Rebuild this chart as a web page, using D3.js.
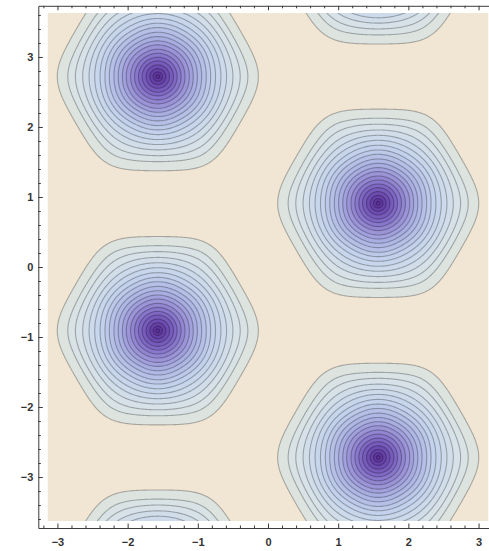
<!DOCTYPE html>
<html>
<head>
<meta charset="utf-8">
<script src="https://cdn.jsdelivr.net/npm/d3@7"></script>
<style>
body { margin: 0; background: #fff; }
.axis text { font-family: "Liberation Sans", Arial, sans-serif; font-size: 11px; font-weight: bold; fill: #333; }
.axis line, .axis path { stroke: #3a3a3a; stroke-width: 1; }
</style>
</head>
<body>
<div id="chart"></div>
<script>
// centres of the purple wells (x, y)
var centreX = [-1.57, 1.57, -1.57, 1.57, 1.57, -1.57];
var centreY = [2.72, 0.91, -0.91, -2.72, 4.53, -4.53];

// contour levels = distance from a centre, outermost first
var levels = [1.345, 1.215, 1.13, 1.047, 0.971, 0.90, 0.829, 0.762, 0.70, 0.633,
              0.571, 0.51, 0.453, 0.39, 0.333, 0.276, 0.224, 0.167, 0.114, 0.067, 0.028];

// band colours by distance from the centre
var colourStops  = [0, 0.12, 0.25, 0.4, 0.55, 0.8, 1.05, 1.25, 1.4];
var colourValues = ["#5a2c96", "#6a48ad", "#7f68c4", "#9890d6", "#aab0e2", "#c4d2ec", "#d4e0ea", "#dce4e2", "#e3e4da"];
var outsideColour = "#f1e5d4";

var majorTicks = [-3, -2, -1, 0, 1, 2, 3];

var width = 489, height = 551;

// plot area
var x = d3.scaleLinear().domain([-Math.PI, Math.PI]).range([47.5, 488.5]);
var y = d3.scaleLinear().domain([-3.628, 3.628]).range([521, 13]);

// frame (a little padding round the plot area)
var frame = {left: 38.3, right: 497.7, top: 5.8, bottom: 528};
var xFrame = d3.scaleLinear().domain([x.invert(frame.left), x.invert(frame.right)]).range([frame.left, frame.right]);
var yFrame = d3.scaleLinear().domain([y.invert(frame.bottom), y.invert(frame.top)]).range([frame.bottom, frame.top]);

var svg = d3.select("#chart")
  .append("svg")
    .attr("width", width)
    .attr("height", height);

svg.append("clipPath").attr("id", "plotclip")
  .append("rect")
    .attr("x", x.range()[0]).attr("y", y.range()[1])
    .attr("width", x.range()[1] - x.range()[0])
    .attr("height", y.range()[0] - y.range()[1]);

// distance to the nearest centre: round near the middle, hexagonal further out
var n1 = [Math.cos(Math.PI / 6), Math.sin(Math.PI / 6)],
    n2 = [0, 1],
    n3 = [-Math.cos(Math.PI / 6), Math.sin(Math.PI / 6)];

function hexDist(dx, dy) {
  var r = Math.sqrt(dx * dx + dy * dy);
  var p = 2 + 6.5 * Math.min(1, Math.pow(r / 1.345, 3));
  var a = Math.abs(n1[0] * dx + n1[1] * dy),
      b = Math.abs(n2[0] * dx + n2[1] * dy),
      c = Math.abs(n3[0] * dx + n3[1] * dy);
  var s = Math.pow(Math.pow(a, p) + Math.pow(b, p) + Math.pow(c, p), 1 / p);
  return s / Math.pow(1 + 2 * Math.pow(0.5, p), 1 / p);
}

var nx = 420, ny = 480;
var x0 = x.domain()[0], x1 = x.domain()[1];
var yTop = y.domain()[1], yBot = y.domain()[0];
var sx = (x1 - x0) / (nx - 1), sy = (yTop - yBot) / (ny - 1);

var values = new Float64Array(nx * ny);
for (var j = 0; j < ny; j++) {
  var yv = yTop - j * sy;
  for (var i = 0; i < nx; i++) {
    var xv = x0 + i * sx;
    var d = Infinity;
    for (var k = 0; k < centreX.length; k++) {
      d = Math.min(d, hexDist(xv - centreX[k], yv - centreY[k]));
    }
    values[j * nx + i] = -d;
  }
}

var contours = d3.contours()
  .size([nx, ny])
  .thresholds(levels.map(function(l) { return -l; }))(values);

var path = d3.geoPath(d3.geoTransform({
  point: function(u, v) {
    this.stream.point(x(x0 + (u - 0.5) * sx), y(yTop - (v - 0.5) * sy));
  }
}));

var colour = d3.scaleLinear().domain(colourStops).range(colourValues)
  .interpolate(d3.interpolateRgb).clamp(true);

var plot = svg.append("g").attr("clip-path", "url(#plotclip)");

plot.append("rect")
  .attr("x", x.range()[0]).attr("y", y.range()[1])
  .attr("width", x.range()[1] - x.range()[0])
  .attr("height", y.range()[0] - y.range()[1])
  .attr("fill", outsideColour);

plot.selectAll("path.band")
  .data(contours)
  .enter().append("path")
    .attr("class", "band")
    .attr("d", path)
    .attr("fill", function(c, i) {
      var outer = -c.value;
      var inner = i + 1 < contours.length ? -contours[i + 1].value : 0;
      return colour((outer + inner) / 2);
    });

plot.selectAll("path.line")
  .data(contours)
  .enter().append("path")
    .attr("class", "line")
    .attr("d", path)
    .attr("fill", "none")
    .attr("stroke", "#000")
    .attr("stroke-opacity", 0.28)
    .attr("stroke-width", 1.1);

// axes: ticks point inwards, minor ticks every 0.2
var minorX = d3.range(-36, 37, 2).map(function(d) { return d / 10; })
  .filter(function(d) { return d % 1 !== 0 && d > xFrame.domain()[0] && d < xFrame.domain()[1]; });
var minorY = d3.range(-36, 37, 2).map(function(d) { return d / 10; })
  .filter(function(d) { return d % 1 !== 0 && d > yFrame.domain()[0] && d < yFrame.domain()[1]; });

function addAxis(axisFn, scale, minor, transform, labels) {
  var g = svg.append("g").attr("class", "axis").attr("transform", transform);
  var major = axisFn(scale).tickValues(majorTicks).tickSizeInner(-4.5).tickSizeOuter(0)
    .tickFormat(labels ? d3.format("d") : "");
  major.tickPadding(axisFn === d3.axisBottom ? 10 : 5);
  g.call(major);
  var gm = svg.append("g").attr("class", "axis").attr("transform", transform);
  gm.call(axisFn(scale).tickValues(minor).tickSize(-2.5).tickFormat(""));
  gm.select(".domain").remove();
}

addAxis(d3.axisBottom, xFrame, minorX, "translate(0," + frame.bottom + ")", true);
addAxis(d3.axisTop, xFrame, minorX, "translate(0," + frame.top + ")", false);
addAxis(d3.axisLeft, yFrame, minorY, "translate(" + frame.left + ",0)", true);
addAxis(d3.axisRight, yFrame, minorY, "translate(" + frame.right + ",0)", false);
</script>
</body>
</html>
